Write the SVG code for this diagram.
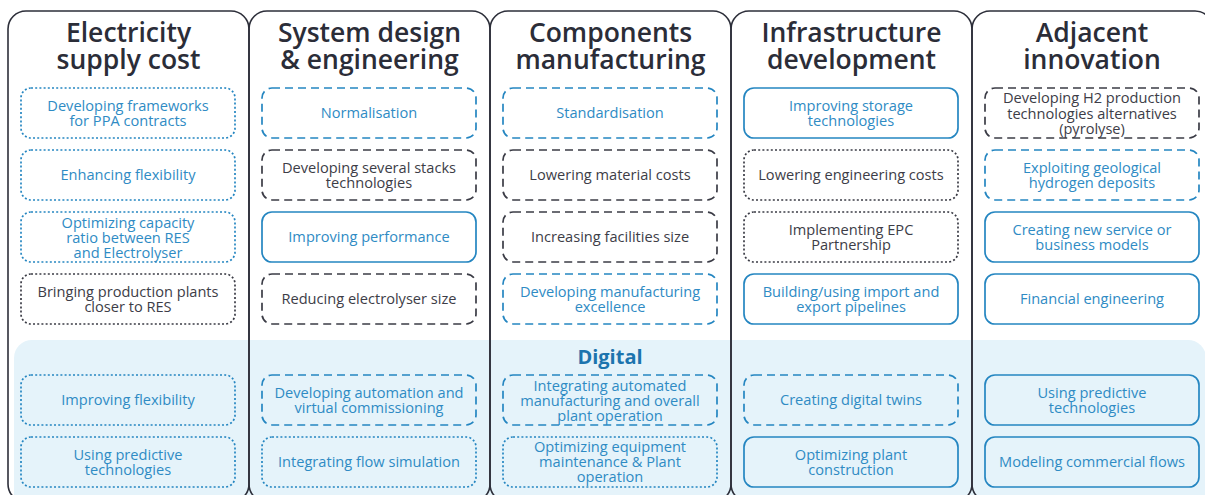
<svg xmlns="http://www.w3.org/2000/svg" width="1205" height="495" viewBox="0 0 1205 495">
  <style>
    .col { fill: none; stroke: #2d2f3a; stroke-width: 1.6; }
    .title { font-family: "Open Sans", "Noto Sans", "Liberation Sans", sans-serif; font-size: 26.5px; font-weight: 600; fill: #2b2d38; text-anchor: middle; }
    .band-title { font-family: "Open Sans", "Noto Sans", "Liberation Sans", sans-serif; font-size: 20px; font-weight: 700; fill: #1c74ae; text-anchor: middle; }
    .box { fill: none; stroke-width: 1.7; }
    .b { stroke: #2586c1; }
    .g { stroke: #3b3c46; }
    .dot { stroke-dasharray: 2 2.2; }
    .dash { stroke-dasharray: 8 5; }
    .lbl { font-family: "Open Sans", "Noto Sans", "Liberation Sans", sans-serif; font-size: 14.6px; text-anchor: middle; }
    .tb { fill: #2f8bc4; }
    .tg { fill: #3d3d47; }
  </style>

  <rect x="0" y="0" width="1205" height="495" fill="#ffffff"/>

  <!-- Digital band spanning all columns -->
  <g id="digital-band">
    <rect x="14" y="340" width="1192" height="180" rx="18" fill="#e5f3fa"/>
    <text class="band-title" x="610" y="364">Digital</text>
  </g>

  <!-- Column outlines and headings -->
  <g id="col-electricity">
    <rect class="col" x="8" y="11" width="241" height="491" rx="18"/>
    <text class="title" x="128.5" y="42">Electricity</text>
    <text class="title" x="128.5" y="69">supply cost</text>
  </g>
  <g id="col-system">
    <rect class="col" x="249" y="11" width="241" height="491" rx="18"/>
    <text class="title" x="369.5" y="42">System design</text>
    <text class="title" x="369.5" y="69">&amp; engineering</text>
  </g>
  <g id="col-components">
    <rect class="col" x="490" y="11" width="241" height="491" rx="18"/>
    <text class="title" x="610.5" y="42">Components</text>
    <text class="title" x="610.5" y="69">manufacturing</text>
  </g>
  <g id="col-infrastructure">
    <rect class="col" x="731" y="11" width="241" height="491" rx="18"/>
    <text class="title" x="851.5" y="42">Infrastructure</text>
    <text class="title" x="851.5" y="69">development</text>
  </g>
  <g id="col-adjacent">
    <rect class="col" x="972" y="11" width="241" height="491" rx="18"/>
    <text class="title" x="1092" y="42">Adjacent</text>
    <text class="title" x="1092" y="69">innovation</text>
  </g>

  <!-- Column 1: Electricity supply cost -->
  <g id="c1-ppa">
    <rect class="box b dot" x="21" y="88" width="214" height="50" rx="10"/>
    <text class="lbl tb" x="128" y="110.5">Developing frameworks</text>
    <text class="lbl tb" x="128" y="125.5">for PPA contracts</text>
  </g>
  <g id="c1-flex">
    <rect class="box b dot" x="21" y="150" width="214" height="50" rx="10"/>
    <text class="lbl tb" x="128" y="180">Enhancing flexibility</text>
  </g>
  <g id="c1-ratio">
    <rect class="box b dot" x="21" y="212" width="214" height="50" rx="10"/>
    <text class="lbl tb" x="128" y="228">Optimizing capacity</text>
    <text class="lbl tb" x="128" y="243">ratio between RES</text>
    <text class="lbl tb" x="128" y="258">and Electrolyser</text>
  </g>
  <g id="c1-closer">
    <rect class="box g dot" x="21" y="274" width="214" height="50" rx="10"/>
    <text class="lbl tg" x="128" y="296.5">Bringing production plants</text>
    <text class="lbl tg" x="128" y="311.5">closer to RES</text>
  </g>
  <g id="c1-improving-flex">
    <rect class="box b dot" x="21" y="375" width="214" height="50" rx="10"/>
    <text class="lbl tb" x="128" y="405">Improving flexibility</text>
  </g>
  <g id="c1-predictive">
    <rect class="box b dot" x="21" y="437" width="214" height="50" rx="10"/>
    <text class="lbl tb" x="128" y="459.5">Using predictive</text>
    <text class="lbl tb" x="128" y="474.5">technologies</text>
  </g>

  <!-- Column 2: System design & engineering -->
  <g id="c2-normalisation">
    <rect class="box b dash" x="262" y="88" width="214" height="50" rx="10"/>
    <text class="lbl tb" x="369" y="118">Normalisation</text>
  </g>
  <g id="c2-stacks">
    <rect class="box g dash" x="262" y="150" width="214" height="50" rx="10"/>
    <text class="lbl tg" x="369" y="172.5">Developing several stacks</text>
    <text class="lbl tg" x="369" y="187.5">technologies</text>
  </g>
  <g id="c2-performance">
    <rect class="box b" x="262" y="212" width="214" height="50" rx="10"/>
    <text class="lbl tb" x="369" y="242">Improving performance</text>
  </g>
  <g id="c2-size">
    <rect class="box g dash" x="262" y="274" width="214" height="50" rx="10"/>
    <text class="lbl tg" x="369" y="304">Reducing electrolyser size</text>
  </g>
  <g id="c2-automation">
    <rect class="box b dash" x="262" y="375" width="214" height="50" rx="10"/>
    <text class="lbl tb" x="369" y="397.5">Developing automation and</text>
    <text class="lbl tb" x="369" y="412.5">virtual commissioning</text>
  </g>
  <g id="c2-flow">
    <rect class="box b dot" x="262" y="437" width="214" height="50" rx="10"/>
    <text class="lbl tb" x="369" y="467">Integrating flow simulation</text>
  </g>

  <!-- Column 3: Components manufacturing -->
  <g id="c3-standard">
    <rect class="box b dash" x="503" y="88" width="214" height="50" rx="10"/>
    <text class="lbl tb" x="610" y="118">Standardisation</text>
  </g>
  <g id="c3-material">
    <rect class="box g dash" x="503" y="150" width="214" height="50" rx="10"/>
    <text class="lbl tg" x="610" y="180">Lowering material costs</text>
  </g>
  <g id="c3-facilities">
    <rect class="box g dash" x="503" y="212" width="214" height="50" rx="10"/>
    <text class="lbl tg" x="610" y="242">Increasing facilities size</text>
  </g>
  <g id="c3-excellence">
    <rect class="box b dash" x="503" y="274" width="214" height="50" rx="10"/>
    <text class="lbl tb" x="610" y="296.5">Developing manufacturing</text>
    <text class="lbl tb" x="610" y="311.5">excellence</text>
  </g>
  <g id="c3-automated">
    <rect class="box b dash" x="503" y="375" width="214" height="50" rx="10"/>
    <text class="lbl tb" x="610" y="391">Integrating automated</text>
    <text class="lbl tb" x="610" y="406">manufacturing and overall</text>
    <text class="lbl tb" x="610" y="421">plant operation</text>
  </g>
  <g id="c3-maintenance">
    <rect class="box b dot" x="503" y="437" width="214" height="50" rx="10"/>
    <text class="lbl tb" x="610" y="452">Optimizing equipment</text>
    <text class="lbl tb" x="610" y="467">maintenance &amp; Plant</text>
    <text class="lbl tb" x="610" y="482">operation</text>
  </g>

  <!-- Column 4: Infrastructure development -->
  <g id="c4-storage">
    <rect class="box b" x="744" y="88" width="214" height="50" rx="10"/>
    <text class="lbl tb" x="851" y="110.5">Improving storage</text>
    <text class="lbl tb" x="851" y="125.5">technologies</text>
  </g>
  <g id="c4-engineering">
    <rect class="box g dot" x="744" y="150" width="214" height="50" rx="10"/>
    <text class="lbl tg" x="851" y="180">Lowering engineering costs</text>
  </g>
  <g id="c4-epc">
    <rect class="box g dot" x="744" y="212" width="214" height="50" rx="10"/>
    <text class="lbl tg" x="851" y="234.5">Implementing EPC</text>
    <text class="lbl tg" x="851" y="249.5">Partnership</text>
  </g>
  <g id="c4-pipelines">
    <rect class="box b" x="744" y="274" width="214" height="50" rx="10"/>
    <text class="lbl tb" x="851" y="296.5">Building/using import and</text>
    <text class="lbl tb" x="851" y="311.5">export pipelines</text>
  </g>
  <g id="c4-twins">
    <rect class="box b dash" x="744" y="375" width="214" height="50" rx="10"/>
    <text class="lbl tb" x="851" y="405">Creating digital twins</text>
  </g>
  <g id="c4-construction">
    <rect class="box b" x="744" y="437" width="214" height="50" rx="10"/>
    <text class="lbl tb" x="851" y="459.5">Optimizing plant</text>
    <text class="lbl tb" x="851" y="474.5">construction</text>
  </g>

  <!-- Column 5: Adjacent innovation -->
  <g id="c5-pyrolyse">
    <rect class="box g dash" x="985" y="88" width="214" height="50" rx="10"/>
    <text class="lbl tg" x="1092" y="103">Developing H2 production</text>
    <text class="lbl tg" x="1092" y="118.5">technologies alternatives</text>
    <text class="lbl tg" x="1092" y="134">(pyrolyse)</text>
  </g>
  <g id="c5-geological">
    <rect class="box b dash" x="985" y="150" width="214" height="50" rx="10"/>
    <text class="lbl tb" x="1092" y="172.5">Exploiting geological</text>
    <text class="lbl tb" x="1092" y="187.5">hydrogen deposits</text>
  </g>
  <g id="c5-business">
    <rect class="box b" x="985" y="212" width="214" height="50" rx="10"/>
    <text class="lbl tb" x="1092" y="234.5">Creating new service or</text>
    <text class="lbl tb" x="1092" y="249.5">business models</text>
  </g>
  <g id="c5-financial">
    <rect class="box b" x="985" y="274" width="214" height="50" rx="10"/>
    <text class="lbl tb" x="1092" y="304">Financial engineering</text>
  </g>
  <g id="c5-predictive">
    <rect class="box b" x="985" y="375" width="214" height="50" rx="10"/>
    <text class="lbl tb" x="1092" y="397.5">Using predictive</text>
    <text class="lbl tb" x="1092" y="412.5">technologies</text>
  </g>
  <g id="c5-commercial">
    <rect class="box b" x="985" y="437" width="214" height="50" rx="10"/>
    <text class="lbl tb" x="1092" y="467">Modeling commercial flows</text>
  </g>
</svg>
